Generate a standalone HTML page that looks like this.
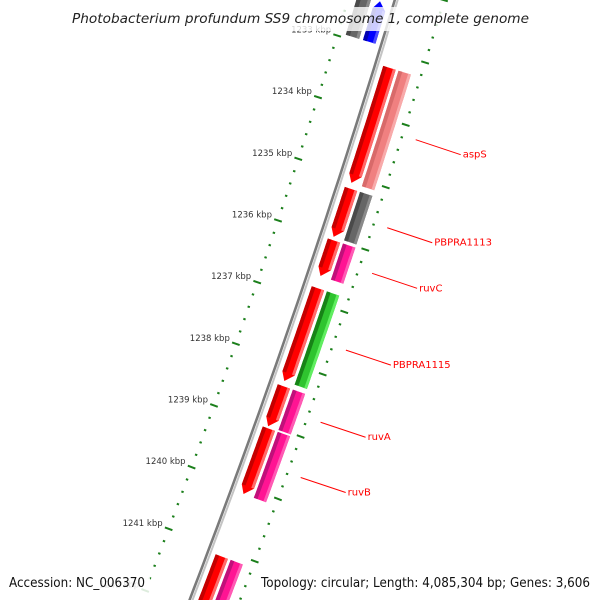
<!DOCTYPE html>
<html><head><meta charset="utf-8"><style>
html,body{margin:0;padding:0;background:#fff;width:600px;height:600px;overflow:hidden;}
svg{display:block;font-family:"DejaVu Sans","Liberation Sans",sans-serif;}
</style></head><body>
<svg id="map" width="600" height="600" viewBox="0 0 600 600" xmlns="http://www.w3.org/2000/svg">
<g id="ruler"></g>
<g id="backbone"></g>
<g id="genes"></g>
<g id="labels"></g>
<rect x="68" y="7" width="464" height="24" fill="#fff" opacity="0.8"/>
<text x="72" y="23" textLength="457" lengthAdjust="spacingAndGlyphs" font-size="13.5" font-style="italic" fill="#222">Photobacterium profundum SS9 chromosome 1, complete genome</text>
<rect x="5" y="573" width="145" height="20" fill="#fff" opacity="0.85"/>
<text x="9" y="587" textLength="136" lengthAdjust="spacingAndGlyphs" font-size="13" fill="#111">Accession: NC_006370</text>
<rect x="257" y="573" width="338" height="20" fill="#fff" opacity="0.85"/>
<text x="261" y="587" textLength="329" lengthAdjust="spacingAndGlyphs" font-size="13" fill="#111">Topology: circular; Length: 4,085,304 bp; Genes: 3,606</text>
</svg>
<script>
// data (kbp positions)
const geneNames  = ["rev1","aspS","PBPRA1113","ruvC","PBPRA1115","ruvA","ruvB","next"];
const geneStarts = [1232.3,1233.24,1235.19,1236.02,1236.79,1238.37,1239.05,1241.11];
const geneEnds   = [1232.95,1235.10,1235.97,1236.60,1238.29,1239.02,1240.11,1242.6];
const geneStrand = [-1,1,1,1,1,1,1,1];
const geneCog    = ["blue","salmon","gray","magenta","green","magenta","magenta","magenta"];
const labelShown = [false,true,true,true,true,true,true,false];
const tickMajors = [1233,1234,1235,1236,1237,1238,1239,1240,1241,1242];
const tickLabels = ["1233 kbp","1234 kbp","1235 kbp","1236 kbp","1237 kbp","1238 kbp","1239 kbp","1240 kbp","1241 kbp","1242 kbp"];
const rulerRange = [1231.6,1243.2];

const NS="http://www.w3.org/2000/svg";
function yb(p){return 111+62*(p-1234);}
function pt(p,d){const y=yb(p);const x=396-0.3*y-0.00007*y*y;const k=0.3+0.00014*y;const n=Math.sqrt(1+k*k);return [x+d/n,y+d*k/n];}
function mk(tag,attrs,parent){const e=document.createElementNS(NS,tag);for(const a in attrs)e.setAttribute(a,attrs[a]);parent.appendChild(e);return e;}
function path(p1,p2,d,steps){const a=[];for(let i=0;i<=steps;i++){const p=p1+(p2-p1)*i/steps;a.push(pt(p,d));}return a;}
function poly(pts){return pts.map(q=>q[0].toFixed(1)+","+q[1].toFixed(1)).join(" ");}

const ruler=document.getElementById('ruler');
for(let i=Math.ceil(rulerRange[0]*5);i<=rulerRange[1]*5;i++){
  const p=i/5;const major=(i%5===0);
  [-46,46].forEach(d=>{
    const h=major?4:1.2;
    const a=pt(p,d-h),b=pt(p,d+h);
    const l=mk('line',{x1:a[0],y1:a[1],x2:b[0],y2:b[1],stroke:'#1b7f1b','stroke-width':2},ruler);
    
    
  });
}
tickMajors.forEach((p,i)=>{
  const q=pt(p,-46);
  const t=mk('text',{x:q[0]-6,y:q[1]-3,'text-anchor':'end','font-size':8.5,fill:'#333'},ruler);
  t.textContent=tickLabels[i];
  
  
});

const bb=document.getElementById('backbone');
const l1=mk('polyline',{points:poly(path(1231.5,1243.5,-1.2,60)),fill:'none',stroke:'#7a7a7a','stroke-width':2.6},bb);


const l2=mk('polyline',{points:poly(path(1231.5,1243.5,1.6,60)),fill:'none',stroke:'#c4c4c4','stroke-width':2},bb);



const pal={red:['#ff0000','#c40000','#ff6a6a'],salmon:['#f08080','#d86a6a','#f8aaaa'],gray:['#666666','#4a4a4a','#8a8a8a'],
magenta:['#ff1493','#c0107a','#ff5ab4'],green:['#2fc42f','#178317','#60ee60'],blue:['#0000ff','#0000b0','#4a4aff']};
const G=document.getElementById('genes');
function drawBlock(s,e,d1,d2,col,arrow,name){
  const g=mk('g',{},G);
  
  
  const c=pal[col];const ah=0.13;
  let shape;
  if(arrow===1){const e2=e-ah;shape=path(s,e2,d2,20).concat([pt(e,(d1+d2)/2-1.5)],path(e2,s,d1,20));}
  else if(arrow===-1){const s2=s+ah;shape=path(s2,e,d2,20).concat(path(e,s2,d1,20),[pt(s,(d1+d2)/2-1.5)]);}
  else{shape=path(s,e,d2,20).concat(path(e,s,d1,20));}
  mk('polygon',{points:poly(shape),fill:c[0]},g);
  const rs=arrow===-1?s+ah:s, re=arrow===1?e-ah:e;
  const w=d2-d1;
  mk('polygon',{points:poly(path(rs,re,d1+w*0.3,20).concat(path(re,rs,d1,20))),fill:c[1]},g);
  mk('polygon',{points:poly(path(rs,re,d2,20).concat(path(re,rs,d2-w*0.22,20))),fill:c[2]},g);
}
geneNames.forEach((n,i)=>{
  const s=geneStarts[i],e=geneEnds[i];
  if(geneStrand[i]===1){
    drawBlock(s,e,7,20,'red',1,'gene-'+n+'-cds');
    drawBlock(s,e,23,36,geneCog[i],0,'gene-'+n+'-cog');
  }else{
    drawBlock(s,e,-20,-7,geneCog[i],-1,'gene-'+n+'-cds');
    drawBlock(s,e,-38,-24,'gray',0,'gene-'+n+'-cog');
  }
});

const L=document.getElementById('labels');
geneNames.forEach((n,i)=>{
  if(!labelShown[i])return;
  const m=(geneStarts[i]+geneEnds[i])/2;const a=pt(m,60);
  const ln=mk('line',{x1:a[0],y1:a[1],x2:a[0]+45,y2:a[1]+15,stroke:'#ff0000','stroke-width':1},L);
  
  
  const t=mk('text',{x:a[0]+47,y:a[1]+18,'font-size':10,fill:'#ff0000'},L);
  t.textContent=n;
  
  
});
</script>
</body></html>
